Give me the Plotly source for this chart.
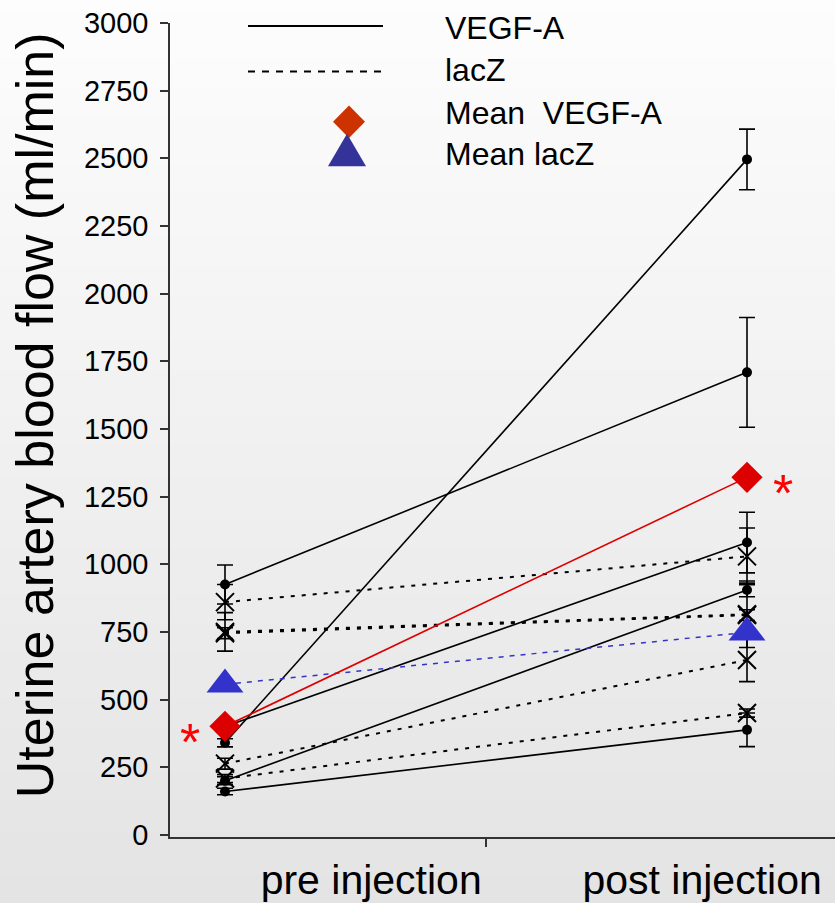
import plotly.graph_objects as go

# ---------------- data ----------------
stages = ["pre injection", "post injection"]
stage_x = [0, 1]

vegf_pre = [925, 340, 400, 200, 160]
vegf_post = [1709, 2496, 1080, 905, 388]
vegf_pre_err = [72, 15, 15, 15, 12]
vegf_post_err = [203, 112, 112, 25, 62]

lacz_pre = [860, 750, 745, 263, 208]
lacz_post = [1029, 815, 812, 646, 450]
lacz_pre_err = [65, 71, 20, 20, 15]
lacz_post_err = [105, 123, 20, 80, 15]

mean_vegf = [401, 1321]
mean_lacz = [556, 748]

legend_labels = ["VEGF-A", "lacZ", "Mean\u00a0 VEGF-A", "Mean lacZ"]
y_ticks = [0, 250, 500, 750, 1000, 1250, 1500, 1750, 2000, 2250, 2500, 2750, 3000]
y_title = "Uterine artery blood flow (ml/min)"

# ---------------- geometry helpers ----------------
W, H = 835, 903
ML, MR, MT, MB = 170, 0, 23, 56
PW, PH = W - ML - MR, H - MT - MB


def px(x):
    return (x - ML) / PW


def py(y):
    return (H - MB - y) / PH


FONT = "Liberation Sans, Arial, Helvetica, sans-serif"

fig = go.Figure()

# individual VEGF-A animals (solid)
for a, b, ea, eb in zip(vegf_pre, vegf_post, vegf_pre_err, vegf_post_err):
    fig.add_trace(go.Scatter(
        x=stage_x, y=[a, b], mode="lines+markers",
        line=dict(color="black", width=1.6),
        marker=dict(symbol="circle", size=10, color="black"),
        error_y=dict(type="data", array=[ea, eb], color="black", thickness=1.6, width=8),
        showlegend=False, hoverinfo="skip"))

# individual lacZ animals (dotted)
for a, b, ea, eb in zip(lacz_pre, lacz_post, lacz_pre_err, lacz_post_err):
    fig.add_trace(go.Scatter(
        x=stage_x, y=[a, b], mode="lines+markers",
        line=dict(color="black", width=2, dash="4px,7px"),
        marker=dict(symbol="x-thin-open", size=18, color="black",
                    line=dict(color="black", width=2)),
        error_y=dict(type="data", array=[ea, eb], color="black", thickness=1.6, width=8),
        showlegend=False, hoverinfo="skip"))

# means
fig.add_trace(go.Scatter(
    x=stage_x, y=mean_lacz, mode="lines+markers",
    line=dict(color="#3333cc", width=1.5, dash="5px,6px"),
    marker=dict(symbol="triangle-up", size=32, color="#3333cc"),
    showlegend=False))
fig.add_trace(go.Scatter(
    x=stage_x, y=mean_vegf, mode="lines+markers",
    line=dict(color="#dd0000", width=1.6),
    marker=dict(symbol="diamond", size=24, color="#dd0000"),
    showlegend=False))

# ---------------- background gradient ----------------
shapes = []
N = 60
for i in range(N):
    y0 = H * i / N
    y1 = H * (i + 1) / N
    t = (i + 0.5) / N
    g = int(round(253 - t * (253 - 228)))
    shapes.append(dict(type="rect", xref="paper", yref="paper",
                       x0=px(0), x1=px(W), y0=py(y1) - 0.002, y1=py(y0) + 0.002,
                       fillcolor=f"rgb({g},{g},{g})", line=dict(width=0),
                       layer="below"))

# ---------------- custom legend ----------------
shapes.append(dict(type="line", xref="paper", yref="paper",
                   x0=px(248), x1=px(383), y0=py(26), y1=py(26),
                   line=dict(color="black", width=2)))
shapes.append(dict(type="line", xref="paper", yref="paper",
                   x0=px(248), x1=px(381), y0=py(72), y1=py(72),
                   line=dict(color="black", width=2, dash="7px,7px")))
dcx, dcy = 349, 123
shapes.append(dict(type="path", xref="paper", yref="paper",
                   path=f"M {px(dcx-16)},{py(dcy)} L {px(dcx)},{py(dcy-16.5)} "
                        f"L {px(dcx+16)},{py(dcy)} L {px(dcx)},{py(dcy+16.5)} Z",
                   fillcolor="#cc3300", line=dict(width=0)))
tcx = 347
shapes.append(dict(type="path", xref="paper", yref="paper",
                   path=f"M {px(tcx-19)},{py(168)} L {px(tcx+19)},{py(168)} "
                        f"L {px(tcx)},{py(135)} Z",
                   fillcolor="#333399", line=dict(width=0)))

annotations = []
for lab, ycen in zip(legend_labels, [28, 71, 114, 156]):
    annotations.append(dict(text=lab, xref="paper", yref="paper",
                            x=px(443), y=py(ycen), xanchor="left", yanchor="middle",
                            showarrow=False, font=dict(family=FONT, size=32, color="black")))

# y-axis title
annotations.append(dict(text=y_title, xref="paper", yref="paper",
                        x=px(35), y=py(420), textangle=-90,
                        xanchor="center", yanchor="middle", showarrow=False,
                        font=dict(family=FONT, size=52, color="black")))

# significance asterisks next to mean VEGF-A markers
annotations.append(dict(text="*", x=stage_x[0], y=mean_vegf[0], xref="x", yref="y",
                        xshift=-35, yshift=-16, showarrow=False,
                        font=dict(family=FONT, size=52, color="#ff0000")))
annotations.append(dict(text="*", x=stage_x[1], y=mean_vegf[1], xref="x", yref="y",
                        xshift=36, yshift=-16, showarrow=False,
                        font=dict(family=FONT, size=52, color="#ff0000")))

fig.update_layout(
    width=W, height=H,
    margin=dict(l=ML, r=MR, t=MT, b=MB),
    paper_bgcolor="#e4e4e4", plot_bgcolor="rgba(0,0,0,0)",
    shapes=shapes, annotations=annotations,
    showlegend=False,
    font=dict(family=FONT, color="black"),
    xaxis=dict(range=[(ML - 225) / 522, (W - 225) / 522],
               showgrid=False, zeroline=False,
               showline=True, linecolor="#333333", linewidth=1.5,
               tickmode="array", tickvals=[0.28, 0.914], ticktext=stages,
               ticks="", ticklabelstandoff=6,
               tickfont=dict(family=FONT, size=41, color="black"),
               minor=dict(tickmode="array", tickvals=[0.5], ticks="outside",
                          ticklen=8, tickwidth=1.5, tickcolor="#333333")),
    yaxis=dict(range=[-8, 3000], showgrid=False, zeroline=False,
               showline=True, linecolor="#333333", linewidth=1.5,
               tickmode="array", tickvals=y_ticks,
               ticks="outside", ticklen=8, tickwidth=1.5, tickcolor="#333333",
               ticklabelstandoff=6,
               tickfont=dict(family=FONT, size=29, color="black")),
)

fig.write_html("out.html",
               config={"displayModeBar": False},
               post_script="document.body.style.margin='0';"
                           "document.body.style.padding='0';"
                           "document.body.style.background='#e4e4e4';"
                           "document.documentElement.style.background='#e4e4e4';"
                           "document.documentElement.style.overflow='hidden';")
